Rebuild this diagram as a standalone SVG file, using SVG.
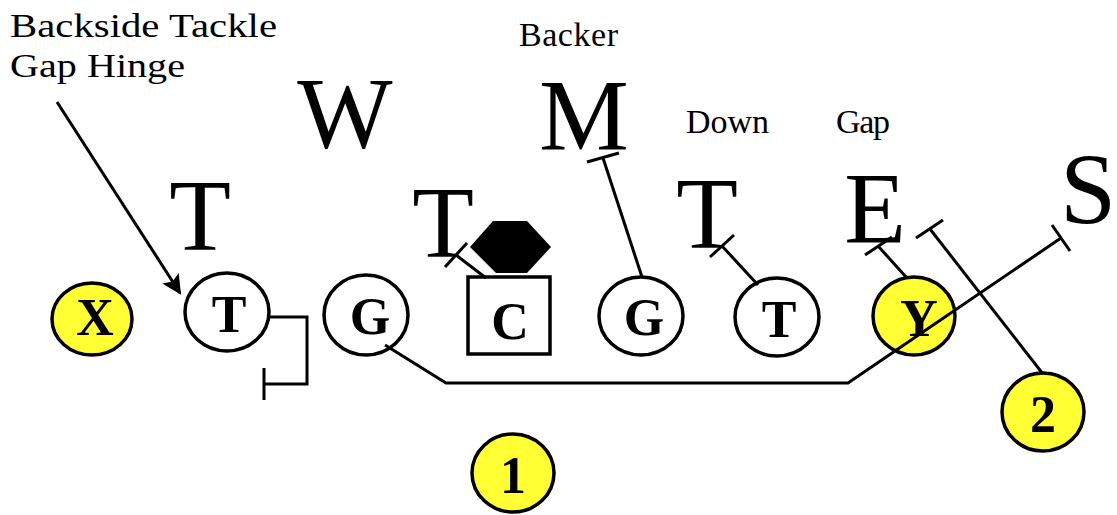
<svg xmlns="http://www.w3.org/2000/svg" width="1117" height="515" viewBox="0 0 1117 515">
<style>
.ln{stroke:#000;stroke-width:3;fill:none;stroke-linecap:butt;stroke-linejoin:miter}
.pl{fill:#fff;stroke:#000;stroke-width:3.5}
.yl{fill:#ffff33;stroke:#000;stroke-width:3.5}
.pt{font-family:"Liberation Serif","Times New Roman",serif;font-weight:bold;font-size:52px;text-anchor:middle;fill:#000}
.df{font-family:"Liberation Serif","Times New Roman",serif;font-size:101px;text-anchor:middle;fill:#000}
.lb{font-family:"Liberation Serif","Times New Roman",serif;font-size:34px;fill:#000}
</style>
<defs>
<marker id="ah" viewBox="0 0 10 10" refX="9" refY="5" markerWidth="6.5" markerHeight="6.5" markerUnits="strokeWidth" orient="auto">
<path d="M0,0 L10,5 L0,10 L2,5 Z" fill="#000"/>
</marker>
</defs>
<g id="labels">
<text class="lb" x="10" y="37" font-size="37" textLength="267" lengthAdjust="spacingAndGlyphs">Backside Tackle</text>
<text class="lb" x="10" y="77" font-size="37" textLength="175" lengthAdjust="spacingAndGlyphs">Gap Hinge</text>
<text class="lb" x="519" y="46" textLength="99" lengthAdjust="spacing">Backer</text>
<text class="lb" x="686" y="133" textLength="83" lengthAdjust="spacing">Down</text>
<text class="lb" x="836" y="133" textLength="54" lengthAdjust="spacing">Gap</text>
</g>
<g id="defense">
<text id="def-W" class="df" x="345" y="148" font-size="103">W</text>
<text id="def-M" class="df" x="584" y="150" font-size="104">M</text>
<text id="def-T1" class="df" x="200" y="250">T</text>
<text id="def-T2" class="df" x="443" y="257">T</text>
<text id="def-T3" class="df" x="707" y="248">T</text>
<text id="def-E" class="df" x="875" y="243">E</text>
<text id="def-S" class="df" x="1088" y="224" font-size="97">S</text>
<polygon id="def-N" points="493,221 527,221 551,247 527,273 496,273 470,247" fill="#000"/>
</g>
<g id="player-X"><ellipse class="yl" cx="92" cy="319" rx="40" ry="36"/><text class="pt" x="95" y="335">X</text></g>
<g id="player-T1"><ellipse class="pl" cx="227" cy="312" rx="42" ry="39"/><text class="pt" x="229" y="332">T</text></g>
<g id="player-G1"><ellipse class="pl" cx="366" cy="315" rx="42" ry="40"/><text class="pt" x="370" y="334">G</text></g>
<g id="player-C"><rect class="pl" x="468" y="277" width="82" height="77"/><text class="pt" x="510" y="339">C</text></g>
<g id="player-G2"><ellipse class="pl" cx="641" cy="316" rx="42" ry="39"/><text class="pt" x="644" y="335">G</text></g>
<g id="player-T2"><ellipse class="pl" cx="777" cy="317" rx="42" ry="39"/><text class="pt" x="779" y="337">T</text></g>
<g id="player-Y"><ellipse class="yl" cx="914" cy="316" rx="41" ry="39"/><text class="pt" x="919" y="336">Y</text></g>
<g id="player-2"><ellipse class="yl" cx="1043" cy="412" rx="41" ry="39"/><text class="pt" x="1043" y="432">2</text></g>
<g id="player-1"><ellipse class="yl" cx="513" cy="473" rx="41" ry="39"/><text class="pt" x="513" y="493">1</text></g>
<g id="connectors">
<line class="ln" x1="57" y1="102" x2="180" y2="293" marker-end="url(#ah)"/>
<polyline class="ln" points="269,317 307,317 307,384 264,384"/>
<line class="ln" x1="264" y1="368" x2="264" y2="400"/>
<polyline class="ln" points="385,345 446,383 848,383 1061,238"/>
<line class="ln" x1="1052" y1="225" x2="1070" y2="251"/>
<line class="ln" x1="486" y1="278" x2="456" y2="255"/>
<line class="ln" x1="445" y1="267" x2="467" y2="243"/>
<line class="ln" x1="642" y1="277" x2="603" y2="158"/>
<line class="ln" x1="587" y1="162" x2="619" y2="153"/>
<line class="ln" x1="758" y1="285" x2="722" y2="246"/>
<line class="ln" x1="710" y1="257" x2="734" y2="235"/>
<line class="ln" x1="907" y1="278" x2="878" y2="246"/>
<line class="ln" x1="865" y1="255" x2="892" y2="237"/>
<line class="ln" x1="1043" y1="374" x2="930" y2="229"/>
<line class="ln" x1="916" y1="238" x2="943" y2="220"/>
</g>
</svg>
